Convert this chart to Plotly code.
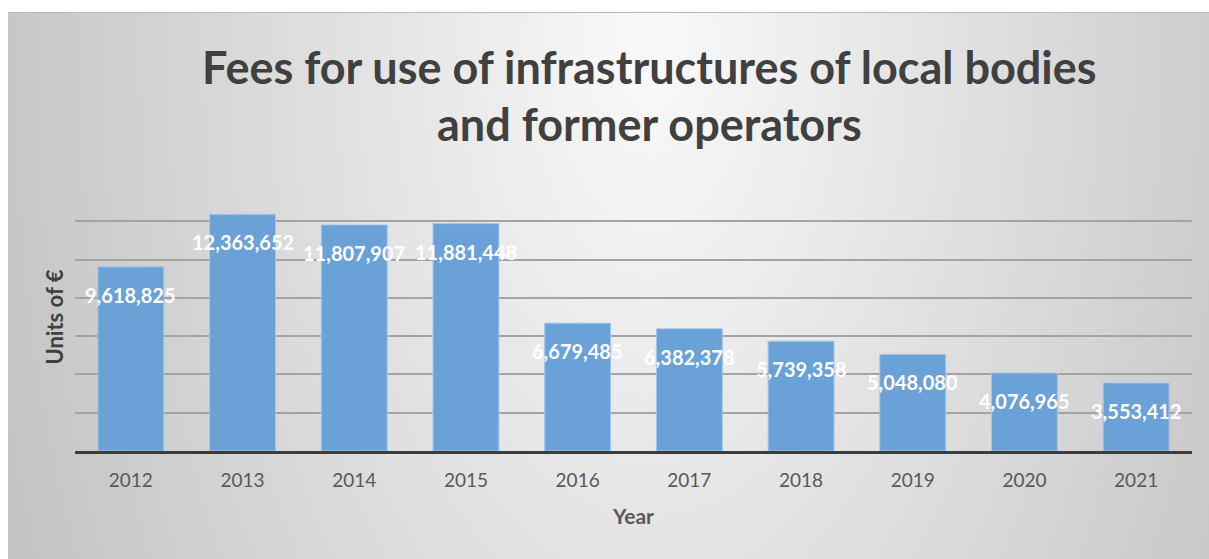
import base64
import struct
import zlib

import numpy as np
import plotly.graph_objects as go

# ---- data ----
years = ["2012", "2013", "2014", "2015", "2016", "2017", "2018", "2019", "2020", "2021"]
fees = [9618825, 12363652, 11807907, 11881448, 6679485, 6382378, 5739358, 5048080, 4076965, 3553412]

title_line1 = "Fees for use of infrastructures of local bodies"
title_line2 = "and former operators"
x_title = "Year"
y_title = "Units of €"

# ---- page geometry (px) ----
W, H = 1209, 559
ML, MR, MT, MB = 75, 17, 183, 108
PW, PH = W - ML - MR, H - MT - MB
CARD_X0, CARD_Y0 = 8, 12  # chart card origin inside the white page


def px_to_paper_x(px):
    return (px - ML) / PW


def px_to_paper_y(py):
    return (H - MB - py) / PH


def gray_png(arr):
    """Encode a 2-D uint8 array as a grayscale PNG data URI."""
    h, w = arr.shape
    raw = b"".join(b"\x00" + arr[i].tobytes() for i in range(h))

    def chunk(tag, data):
        c = struct.pack(">I", len(data)) + tag + data
        return c + struct.pack(">I", zlib.crc32(tag + data) & 0xFFFFFFFF)

    png = b"\x89PNG\r\n\x1a\n"
    png += chunk(b"IHDR", struct.pack(">IIBBBBB", w, h, 8, 0, 0, 0, 0))
    png += chunk(b"IDAT", zlib.compress(raw, 9))
    png += chunk(b"IEND", b"")
    return "data:image/png;base64," + base64.b64encode(png).decode()


# soft radial shading for the chart card: bright near the title, grey at the sides
cw, ch = W - CARD_X0, H - CARD_Y0
yy, xx = np.mgrid[0:ch, 0:cw].astype(float)
cx, cy = 650 - CARD_X0, 40 - CARD_Y0
r = np.sqrt(((xx - cx) / 700.0) ** 2 + ((yy - cy) / 1300.0) ** 2)
shade = np.clip(250 - 55 * np.clip(r, 0, 1.1), 0, 255).astype(np.uint8)
bg_uri = gray_png(shade)

fig = go.Figure()
fig.add_trace(
    go.Bar(
        x=years,
        y=fees,
        marker=dict(color="#6aa1d7", line=dict(color="#a3c6ea", width=1)),
        hoverinfo="x+y",
    )
)

# value labels sitting just under each bar top (x given as category index)
label_font = dict(family="Lato", size=20, color="white", weight="bold")
annotations = []
for i, v in enumerate(fees):
    annotations.append(
        dict(
            x=i, y=v, xref="x", yref="y",
            text=f"{v:,}", showarrow=False,
            yanchor="middle", yshift=-28,
            font=label_font,
        )
    )

title_font = dict(family="Lato", size=45, color="#404040", weight="bold")
annotations.append(dict(
    x=px_to_paper_x(649), y=px_to_paper_y(67), xref="paper", yref="paper",
    text=f"<b>{title_line1}</b>", showarrow=False, xanchor="center", yanchor="middle",
    font=title_font,
))
annotations.append(dict(
    x=px_to_paper_x(649), y=px_to_paper_y(124), xref="paper", yref="paper",
    text=f"<b>{title_line2}</b>", showarrow=False, xanchor="center", yanchor="middle",
    font=title_font,
))

fig.update_layout(
    width=W,
    height=H,
    margin=dict(l=ML, r=MR, t=MT, b=MB, autoexpand=False),
    paper_bgcolor="white",
    plot_bgcolor="rgba(0,0,0,0)",
    bargap=0.41,
    showlegend=False,
    annotations=annotations,
    images=[
        dict(
            source=bg_uri, xref="paper", yref="paper",
            x=px_to_paper_x(CARD_X0), y=px_to_paper_y(CARD_Y0),
            sizex=cw / PW, sizey=ch / PH,
            xanchor="left", yanchor="top", sizing="stretch", layer="below",
        )
    ],
    shapes=[
        dict(
            type="line", xref="paper", yref="paper",
            x0=px_to_paper_x(CARD_X0), x1=px_to_paper_x(W),
            y0=px_to_paper_y(CARD_Y0 + 0.5), y1=px_to_paper_y(CARD_Y0 + 0.5),
            line=dict(color="#b8b8b8", width=1),
        )
    ],
)

fig.update_xaxes(
    type="category",
    range=[-0.5, len(years) - 0.5],
    showline=True, linecolor="#3c3c3c", linewidth=2.5,
    ticks="outside", ticklen=10, tickcolor="rgba(0,0,0,0)",
    tickfont=dict(family="Lato", size=19, color="#595959"),
    title=dict(text=f"<b>{x_title}</b>", font=dict(family="Lato", size=21, color="#595959"), standoff=20),
    showgrid=False,
)
fig.update_yaxes(
    range=[0, 14000000], dtick=2000000,
    showgrid=True, gridcolor="#a3a3a3", gridwidth=1.5,
    zeroline=False, showticklabels=False,
    title=dict(text=f"<b>{y_title}</b>", font=dict(family="Lato", size=22, color="#404040"), standoff=4),
)

fig.write_html("out.html")
